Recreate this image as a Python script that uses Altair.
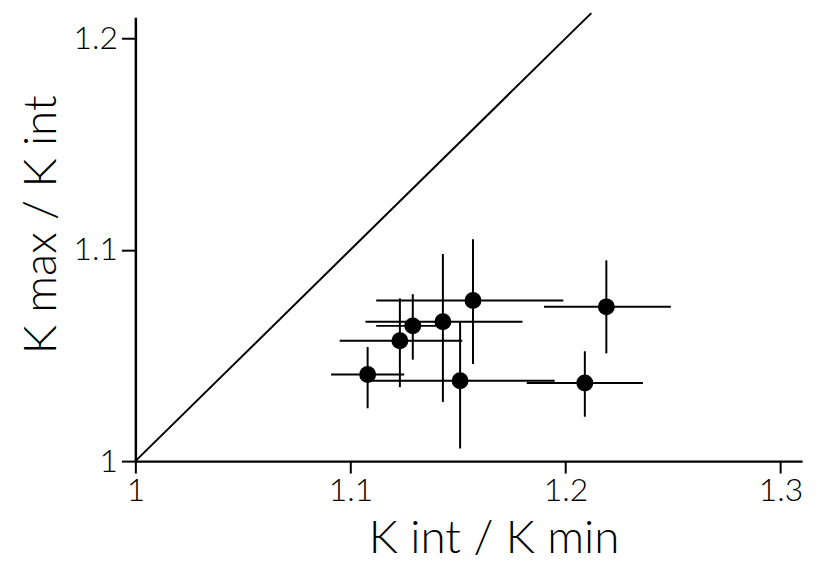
import altair as alt
import pandas as pd

# measured values
x_val = [1.108, 1.123, 1.129, 1.143, 1.157, 1.151, 1.209, 1.219]
y_val = [1.041, 1.057, 1.064, 1.066, 1.076, 1.038, 1.037, 1.073]
x_lo = [1.091, 1.095, 1.112, 1.107, 1.112, 1.107, 1.182, 1.190]
x_hi = [1.125, 1.152, 1.140, 1.180, 1.199, 1.195, 1.236, 1.249]
y_lo = [1.025, 1.035, 1.048, 1.028, 1.046, 1.006, 1.021, 1.051]
y_hi = [1.054, 1.077, 1.079, 1.098, 1.105, 1.066, 1.052, 1.095]

diag = [1.0, 1.212]
x_ticks = [1.0, 1.1, 1.2, 1.3]
y_ticks = [1.0, 1.1, 1.2]

df = pd.DataFrame({"x": x_val, "y": y_val, "xlo": x_lo, "xhi": x_hi,
                   "ylo": y_lo, "yhi": y_hi})
ddf = pd.DataFrame({"x": diag, "y": diag})

FONT = "Lato"
xs = alt.Scale(domain=[1.0, 1.31], nice=False, zero=False)
ys = alt.Scale(domain=[1.0, 1.21], nice=False, zero=False)

xaxis = alt.Axis(values=x_ticks, labelExpr="datum.value == 1 ? '1' : format(datum.value, '.1f')",
                 title="K int / K min", titleFontSize=46, titleFont=FONT,
                 titleFontWeight=300, labelFont=FONT, labelFontSize=32, labelFontWeight=300,
                 labelColor="black", titleColor="black", domainColor="black",
                 domainWidth=2.5, tickColor="black", tickWidth=2, tickSize=12,
                 labelPadding=3, titlePadding=10, titleX=360, grid=False, labelFlush=False)
yaxis = alt.Axis(values=y_ticks, labelExpr="datum.value == 1 ? '1' : format(datum.value, '.1f')",
                 title="K max / K int", titleFontSize=46, titleFont=FONT,
                 titleFontWeight=300, labelFont=FONT, labelFontSize=32, labelFontWeight=300,
                 labelColor="black", titleColor="black", domainColor="black",
                 domainWidth=2.5, tickColor="black", tickWidth=2, tickSize=14,
                 labelPadding=4, titlePadding=8, titleY=208, grid=False, labelFlush=False)

line = alt.Chart(ddf).mark_line(color="black", strokeWidth=2).encode(
    x=alt.X("x:Q", scale=xs, axis=xaxis),
    y=alt.Y("y:Q", scale=ys, axis=yaxis),
)
hbar = alt.Chart(df).mark_rule(color="black", strokeWidth=2).encode(
    x=alt.X("xlo:Q", scale=xs), x2="xhi:Q", y=alt.Y("y:Q", scale=ys))
vbar = alt.Chart(df).mark_rule(color="black", strokeWidth=2).encode(
    x=alt.X("x:Q", scale=xs), y=alt.Y("ylo:Q", scale=ys), y2="yhi:Q")
pts = alt.Chart(df).mark_point(filled=True, color="black", opacity=1, size=290).encode(
    x=alt.X("x:Q", scale=xs), y=alt.Y("y:Q", scale=ys))

chart = alt.layer(line, hbar, vbar, pts).properties(
    width=670, height=446,
    background="white",
    autosize=alt.AutoSizeParams(type="none"),
    padding={"left": 128, "top": 8, "right": 8, "bottom": 100},
).configure_view(stroke=None)

chart.save("out.html", embed_options={"renderer": "svg", "actions": False})
